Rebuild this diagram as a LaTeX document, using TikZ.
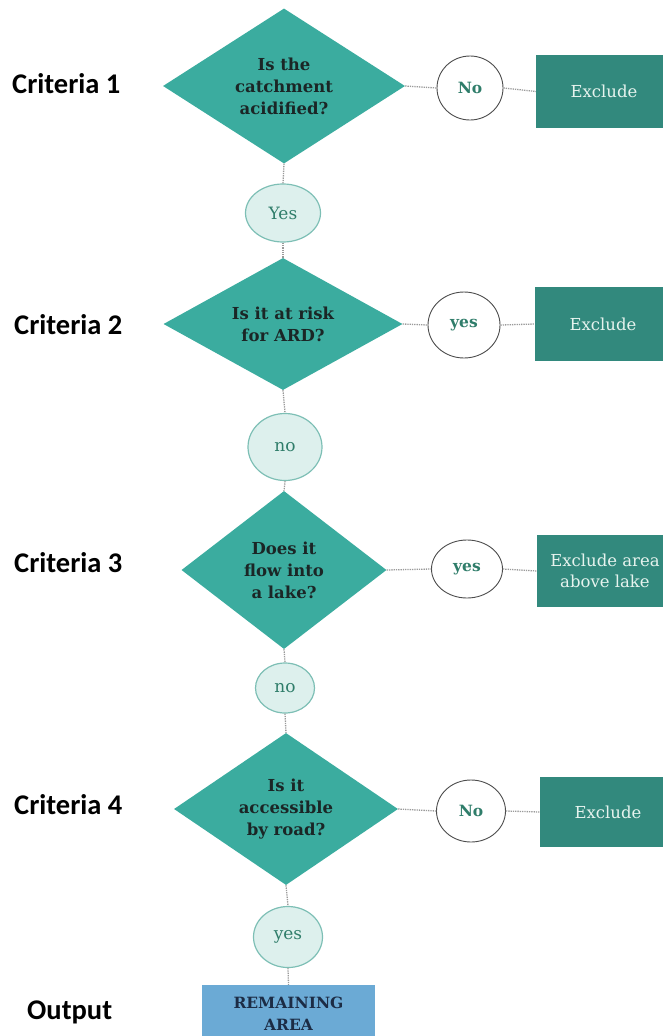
\documentclass[tikz,border=0pt]{standalone}
\usepackage{fontspec}
\setmainfont{DejaVu Serif}
\newfontfamily\labfont{Carlito}
\usetikzlibrary{shapes.geometric}
\definecolor{teal1}{HTML}{3BAC9F}
\definecolor{teal2}{HTML}{32897D}
\definecolor{lightfill}{HTML}{DDF0ED}
\definecolor{lightborder}{HTML}{7DBFB5}
\definecolor{circtext}{HTML}{2F7D6A}
\definecolor{darktext}{HTML}{1B2626}
\definecolor{boxtext}{HTML}{E6F3EE}
\definecolor{outfill}{HTML}{6BAAD5}
\definecolor{outtext}{HTML}{1C2C45}
\definecolor{linegray}{HTML}{9A9A9A}
\tikzset{
  dia/.style={diamond, fill=teal1, inner sep=0pt},
  diatext/.style={align=center, font=\fontsize{16.5}{22}\selectfont\bfseries, text=darktext},
  exbox/.style={rectangle, fill=teal2, inner sep=0pt, minimum width=136pt, text=boxtext, align=center, font=\fontsize{16.5}{21}\selectfont},
  wcirc/.style={ellipse, draw=black!70, line width=0.9pt, fill=white, inner sep=0pt, text=circtext, font=\fontsize{15.5}{18}\selectfont\bfseries},
  lcirc/.style={ellipse, draw=lightborder, line width=1.2pt, fill=lightfill, inner sep=0pt, text=circtext, font=\fontsize{17}{20}\selectfont},
  crit/.style={anchor=west, inner sep=0pt, font=\labfont\fontsize{28.5}{30}\selectfont\bfseries, text=black},
  conn/.style={draw=linegray, line width=1.3pt, densely dotted}
}
\begin{document}
\begin{tikzpicture}[x=1pt,y=-1pt]
\useasboundingbox (0,0) rectangle (662,1036);
% criteria labels
\node[crit] (l1) at (12,84) {Criteria 1};
\node[crit] (l2) at (14,325) {Criteria 2};
\node[crit] (l3) at (14,563) {Criteria 3};
\node[crit] (l4) at (14,805) {Criteria 4};
\node[crit] (l5) at (27,1012) {Output};
% diamonds
\node[dia, minimum width=242pt, minimum height=155pt] (d1) at (284,86) {};
\node[diatext] (t1) at (d1.center) {Is the\\catchment\\acidified?};
\node[dia, minimum width=239pt, minimum height=132pt] (d2) at (283,324) {};
\node[diatext] (t2) at (d2.center) {Is it at risk\\for ARD?};
\node[dia, minimum width=205pt, minimum height=158pt] (d3) at (284,570) {};
\node[diatext] (t3) at (d3.center) {Does it\\flow into\\a lake?};
\node[dia, minimum width=224pt, minimum height=152pt] (d4) at (286,809) {};
\node[diatext] (t4) at (d4.center) {Is it\\accessible\\by road?};
% right circles
\node[wcirc, minimum width=66pt, minimum height=64pt] (c1) at (470,88) {No};
\node[wcirc, minimum width=72pt, minimum height=66pt] (c2) at (464,325) {yes};
\node[wcirc, minimum width=71pt, minimum height=58pt] (c3) at (467,569) {yes};
\node[wcirc, minimum width=69pt, minimum height=62pt] (c4) at (471,811) {No};
% exclude boxes
\node[exbox, minimum height=73pt] (b1) at (604,91.5) {Exclude};
\node[exbox, minimum height=74pt] (b2) at (603,324) {Exclude};
\node[exbox, minimum height=72pt] (b3) at (605,571) {Exclude area\\above lake};
\node[exbox, minimum height=70pt] (b4) at (608,812) {Exclude};
% down circles
\node[lcirc, minimum width=75pt, minimum height=58pt] (y1) at (283,213) {Yes};
\node[lcirc, minimum width=74pt, minimum height=67pt] (n2) at (285,447) {no};
\node[lcirc, minimum width=59pt, minimum height=50pt] (n3) at (285,688) {no};
\node[lcirc, minimum width=69pt, minimum height=61pt] (y4) at (288,937) {yes};
% output
\node[rectangle, fill=outfill, minimum width=173pt, minimum height=56pt, inner sep=0pt] (out) at (288.5,1013) {};
\node[align=center, font=\fontsize{15.5}{22}\selectfont\bfseries, text=outtext] (outt) at (288.5,1014) {REMAINING\\AREA};
% connectors
\draw[conn] (d1.east) -- (c1.west);
\draw[conn] (c1.east) -- (b1.west);
\draw[conn] (d2.east) -- (c2.west);
\draw[conn] (c2.east) -- (b2.west);
\draw[conn] (d3.east) -- (c3.west);
\draw[conn] (c3.east) -- (b3.west);
\draw[conn] (d4.east) -- (c4.west);
\draw[conn] (c4.east) -- (b4.west);
\draw[conn] (d1.south) -- (y1.north);
\draw[conn] (y1.south) -- (d2.north);
\draw[conn] (d2.south) -- (n2.north);
\draw[conn] (n2.south) -- (d3.north);
\draw[conn] (d3.south) -- (n3.north);
\draw[conn] (n3.south) -- (d4.north);
\draw[conn] (d4.south) -- (y4.north);
\draw[conn] (y4.south) -- (out.north);
\end{tikzpicture}
\end{document}
